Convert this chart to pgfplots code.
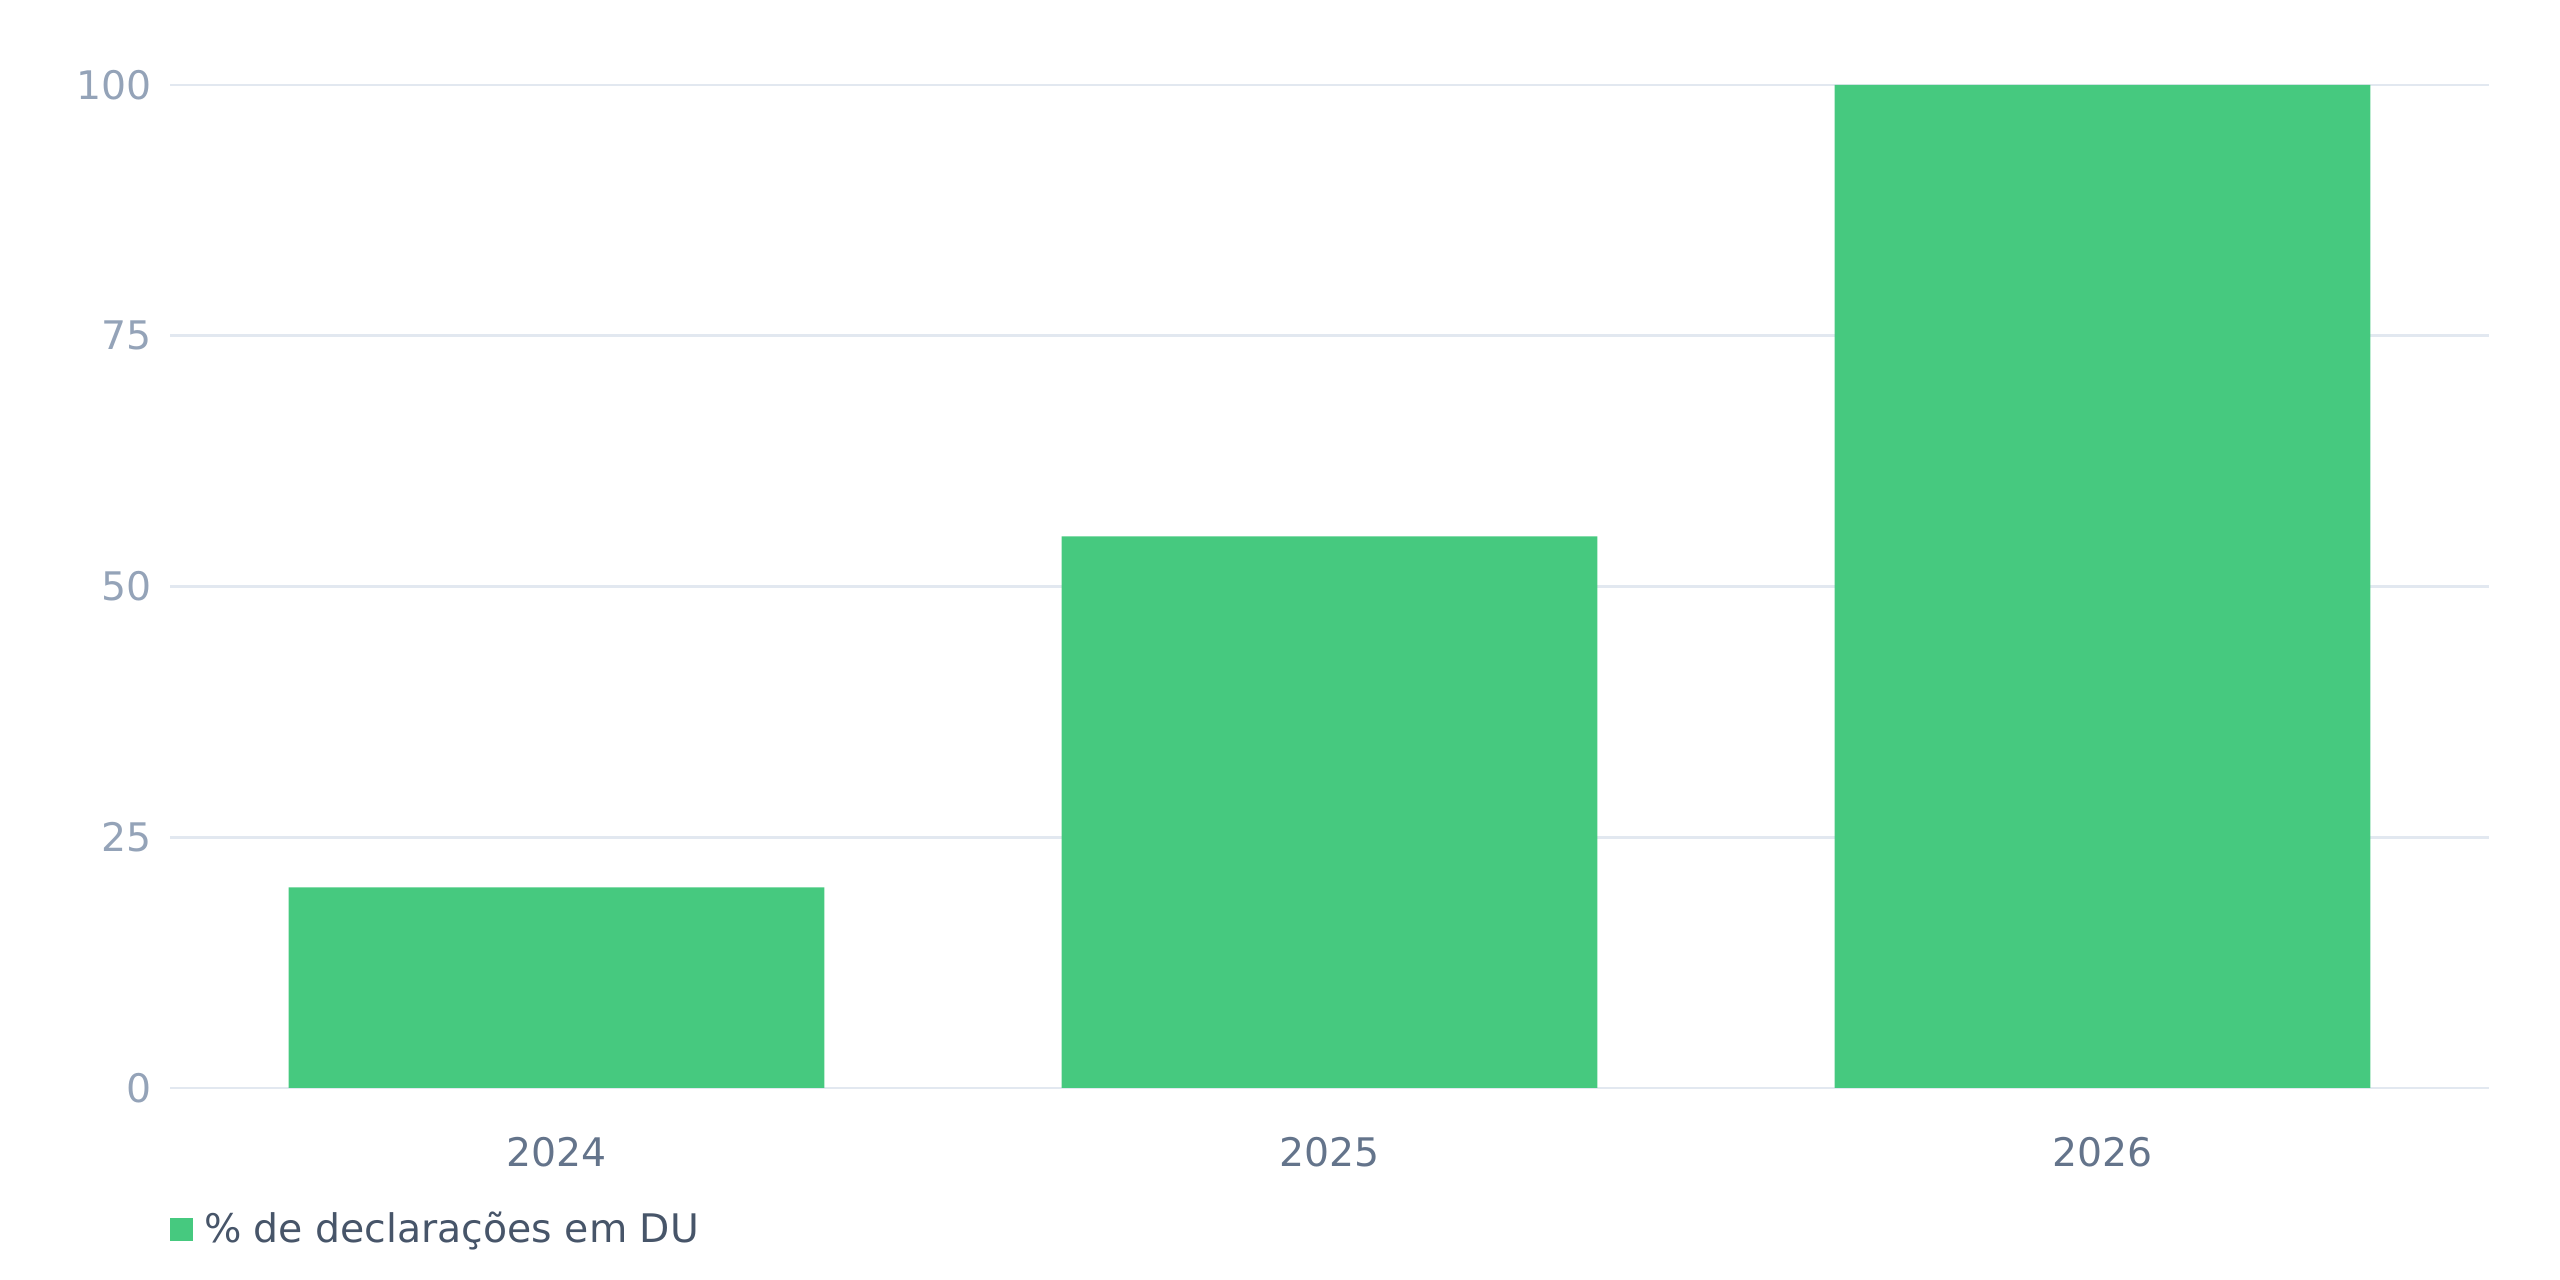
\documentclass[border=0pt]{standalone}
\usepackage{fontspec}
\setmainfont{DejaVu Sans}
\usepackage{pgfplots}
\pgfplotsset{compat=1.18}

\definecolor{barg}{HTML}{46C97F}
\definecolor{gridc}{HTML}{E2E8F0}
\definecolor{ytick}{HTML}{94A3B8}
\definecolor{xtick}{HTML}{64748B}
\definecolor{legc}{HTML}{475569}

\begin{document}
\fontsize{11.2}{13}\selectfont
\begin{tikzpicture}
\useasboundingbox (0,0) rectangle (25.6cm,12.8cm);
\begin{axis}[
    at={(1.70cm,1.92cm)}, anchor=south west,
    scale only axis,
    width=23.19cm, height=10.03cm,
    xmin=-0.5, xmax=2.5,
    ymin=0, ymax=100,
    axis line style={draw=none},
    major tick length=0pt,
    xtick=data,
    xticklabels={2024,2025,2026},
    ytick={0,25,50,75,100},
    ymajorgrids=true,
    grid style={gridc, line width=0.8pt},
    xticklabel style={anchor=north, inner sep=0pt, text=xtick},
    yticklabel style={anchor=east, inner sep=0pt, text=ytick},
    xticklabel shift=0.49cm,
    yticklabel shift=0.18cm,
    /pgf/number format/assume math mode=true,
    ybar, bar width=0.693,
    legend style={at={(axis description cs:0,0)}, anchor=west, yshift=-1.42cm,
        draw=none, fill=none, inner sep=0pt, outer sep=0pt,
        nodes={inner sep=0pt, text=legc}},
    legend image code/.code={\fill[barg] (0cm,-0.115cm) rectangle (0.23cm,0.115cm);
        \path (0.34cm,0cm);},
    legend cell align=left,
]
\addplot[fill=barg, draw=none] coordinates {(0,20) (1,55) (2,100)};
\legend{\% de declarações em DU}
\end{axis}
\end{tikzpicture}
\end{document}
